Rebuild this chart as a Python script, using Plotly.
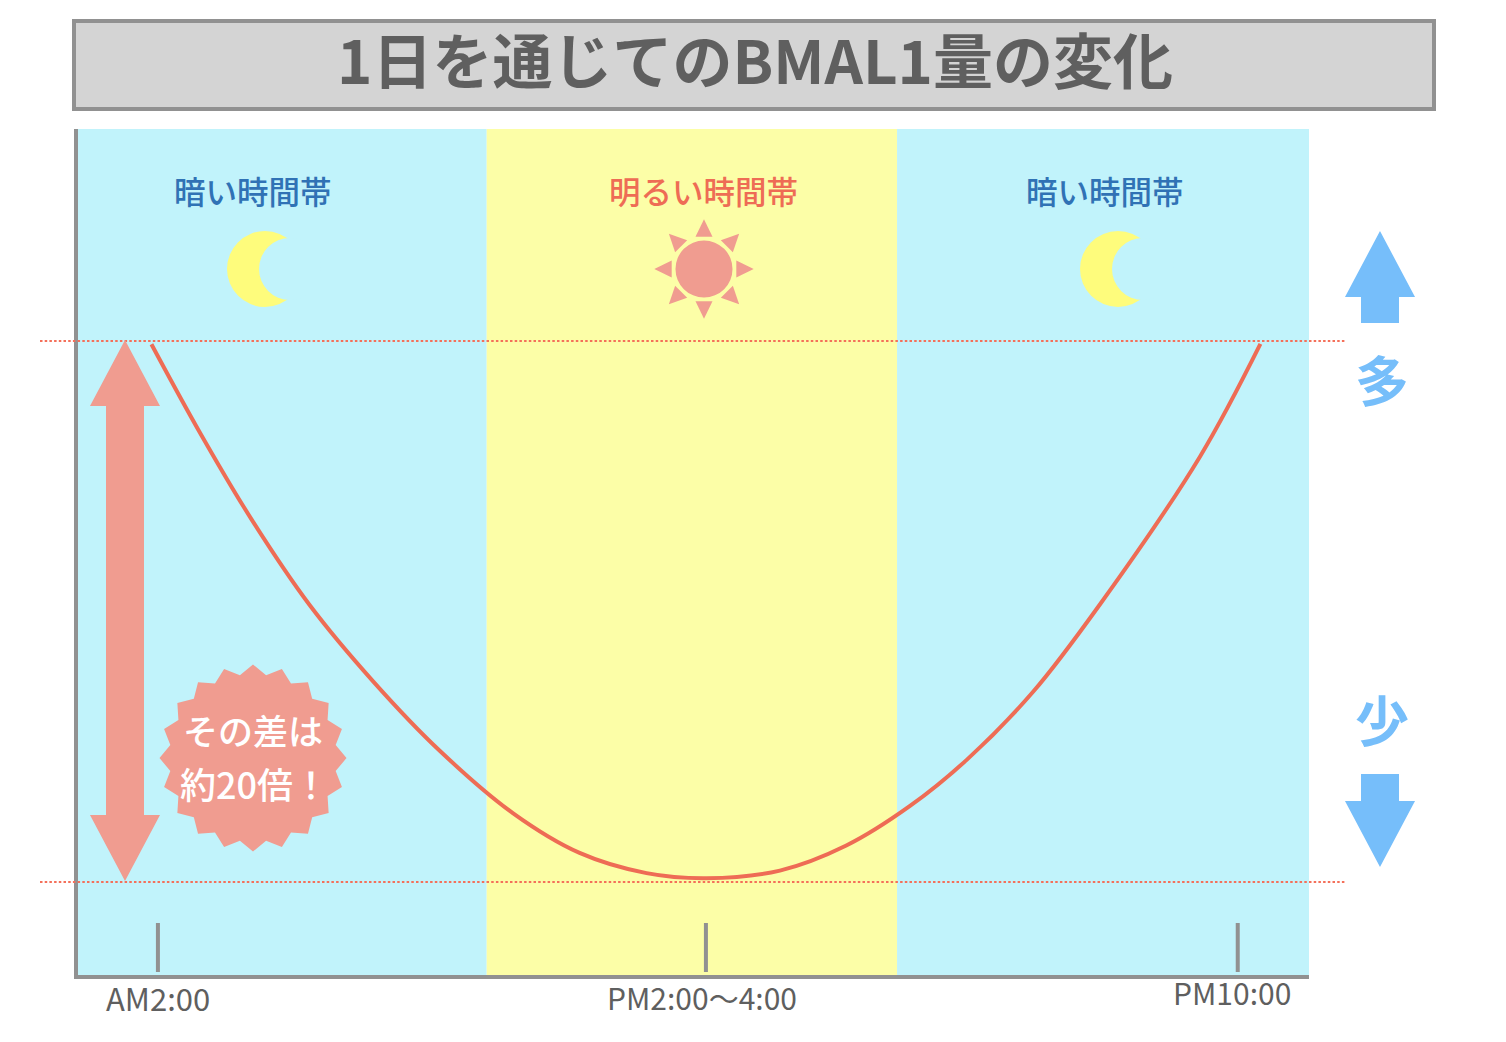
# standard
import math
# external
import plotly.graph_objects as go


##########
# Inputs #
##########

PAGE_WIDTH = 1506
PAGE_HEIGHT = 1042

title_text = "1日を通じてのBMAL1量の変化"

# Curve. x = position on the time axis (hours, schematic), y = relative BMAL1 amount
curve_hours = [
    1.88, 2.75, 3.74, 4.81, 5.99, 7.22, 8.58, 9.81, 11.05, 12.16,
    13.52, 14.75, 15.93, 16.98, 18.21, 19.44, 21.30, 22.42,
]
curve_amount = [
    19.89, 16.88, 13.72, 10.73, 8.04, 5.61, 3.41, 2.02, 1.31, 1.13,
    1.40, 2.28, 3.67, 5.29, 7.68, 10.73, 15.94, 19.90,
]

band_edges = [0.52, 8.09, 15.69, 23.32]
band_colors = ["#C1F3FB", "#FCFEA7", "#C1F3FB"]
band_labels = ["暗い時間帯", "明るい時間帯", "暗い時間帯"]
band_label_colors = ["#3072B5", "#EE6C55", "#3072B5"]

tick_hours = [2, 12.15, 22]
tick_labels = ["AM2:00", "PM2:00～4:00", "PM10:00"]

amount_levels = [1, 20]
amount_labels = ["少", "多"]
badge_lines = ["その差は", "約20倍！"]

GRAY = "#919191"
TEXT_GRAY = "#5F5F5F"
RED = "#EE6C55"
SALMON = "#F09C90"
BLUE = "#76BEFA"
MOON = "#FEFC7C"
NIGHT = "#C1F3FB"
FONT = "Noto Sans CJK JP"
FONT_MEDIUM = "'Noto Sans CJK JP Medium', 'Noto Sans CJK JP'"


#############
# Functions #
#############

def px(x):
    return x / PAGE_WIDTH


def py(y):
    return 1 - y / PAGE_HEIGHT


def polygon_shape(points, color):
    path = "M " + " L ".join(f"{px(x):.5f},{py(y):.5f}" for x, y in points) + " Z"
    return dict(type="path", path=path, xref="paper", yref="paper",
                fillcolor=color, line_width=0, layer="above")


def circle_shape(cx, cy, r, color):
    return dict(type="circle", xref="paper", yref="paper",
                x0=px(cx - r), x1=px(cx + r), y0=py(cy + r), y1=py(cy - r),
                fillcolor=color, line_width=0, layer="above")


def text_note(x, y, text, size, color, family=FONT):
    return dict(x=px(x), y=py(y), xref="paper", yref="paper", text=text, showarrow=False,
                xanchor="center", yanchor="middle",
                font=dict(size=size, color=color, family=family))


def sun_shapes(cx, cy):
    shapes = [circle_shape(cx, cy, 28.5, SALMON)]
    for i in range(8):
        a = math.radians(i * 45)
        ux, uy = math.cos(a), math.sin(a)
        shapes.append(polygon_shape([
            (cx + 49.7 * ux, cy + 49.7 * uy),
            (cx + 32.3 * ux - 8.5 * uy, cy + 32.3 * uy + 8.5 * ux),
            (cx + 32.3 * ux + 8.5 * uy, cy + 32.3 * uy - 8.5 * ux),
        ], SALMON))
    return shapes


def burst_points(cx, cy, n_points, r_outer, r_inner):
    points = []
    for i in range(n_points * 2):
        a = math.radians(i * 180 / n_points)
        r = r_outer if i % 2 == 0 else r_inner
        points.append((cx + r * math.sin(a), cy - r * math.cos(a)))
    return points


############
# Plotting #
############

figure = go.Figure()

figure.add_trace(
    go.Scatter(
        x=curve_hours,
        y=curve_amount,
        mode="lines",
        line=dict(color=RED, width=4, shape="spline", smoothing=1),
        hoverinfo="skip",
    )
)

shapes = []

# Day / night bands
for i, color in enumerate(band_colors):
    shapes.append(dict(type="rect", xref="x", yref="y domain", x0=band_edges[i], x1=band_edges[i + 1],
                       y0=0, y1=1, fillcolor=color, line_width=0, layer="below"))

# Dotted max and min levels
for level in amount_levels:
    shapes.append(dict(type="line", xref="paper", yref="y", x0=px(40), x1=px(1346), y0=level, y1=level,
                       line=dict(color="#F4705A", width=2, dash="2.5px,2.2px"), layer="above"))

# Ticks stop short of the axis line
for hour in tick_hours:
    shapes.append(dict(type="line", xref="x", yref="paper", x0=hour, x1=hour, y0=py(972), y1=py(923),
                       line=dict(color=GRAY, width=4), layer="above"))

# Title box
shapes.append(dict(type="rect", xref="paper", yref="paper", x0=px(74), x1=px(1434), y0=py(109), y1=py(21),
                   fillcolor="#D4D4D4", line=dict(color=GRAY, width=4), layer="above"))

# Moons, drawn as a yellow disc with a night coloured disc on top
for moon_x in [265, 1118]:
    shapes.append(circle_shape(moon_x, 269, 38, MOON))
    shapes.append(circle_shape(moon_x + 25, 269, 31, NIGHT))

shapes += sun_shapes(704, 269)

# Double arrow showing the range
shapes.append(polygon_shape([
    (125, 340), (160, 406), (144, 406), (144, 815), (160, 815), (125, 881),
    (90, 815), (106, 815), (106, 406), (90, 406),
], SALMON))

# More / less arrows
shapes.append(polygon_shape([
    (1380, 231), (1415, 297), (1399, 297), (1399, 323), (1361, 323), (1361, 297), (1345, 297),
], BLUE))
shapes.append(polygon_shape([
    (1380, 867), (1415, 801), (1399, 801), (1399, 774), (1361, 774), (1361, 801), (1345, 801),
], BLUE))

# Badge
shapes.append(polygon_shape(burst_points(253, 758, 20, 93.5, 83.7), SALMON))

annotations = [
    text_note(755, 58, f"<b>{title_text}</b>", 60, TEXT_GRAY),
    text_note(253, 190, band_labels[0], 31.5, band_label_colors[0], FONT_MEDIUM),
    text_note(703, 190, band_labels[1], 31.5, band_label_colors[1], FONT_MEDIUM),
    text_note(1105, 190, band_labels[2], 31.5, band_label_colors[2], FONT_MEDIUM),
    text_note(253, 729, badge_lines[0], 35, "white", FONT_MEDIUM),
    text_note(255, 783, badge_lines[1], 36, "white", FONT_MEDIUM),
    text_note(158, 997, tick_labels[0], 31, TEXT_GRAY),
    text_note(702, 997, tick_labels[1], 30, TEXT_GRAY),
    text_note(1232, 992, tick_labels[2], 30, TEXT_GRAY),
    text_note(1382, 378, f"<b>{amount_labels[1]}</b>", 54, BLUE),
    text_note(1382, 719, f"<b>{amount_labels[0]}</b>", 54, BLUE),
]

figure.update_layout(
    width=PAGE_WIDTH,
    height=PAGE_HEIGHT,
    margin=dict(l=0, r=0, t=0, b=0),
    paper_bgcolor="white",
    plot_bgcolor="white",
    showlegend=False,
    hovermode=False,
    shapes=shapes,
    annotations=annotations,
    xaxis=dict(
        domain=[78 / PAGE_WIDTH, 1309 / PAGE_WIDTH],
        range=[band_edges[0], band_edges[-1]],
        showgrid=False,
        zeroline=False,
        showticklabels=False,
        ticks="",
        showline=True,
        linecolor=GRAY,
        linewidth=4,
    ),
    yaxis=dict(
        domain=[1 - 975 / PAGE_HEIGHT, 1 - 129 / PAGE_HEIGHT],
        range=[-2.267, 27.449],
        showgrid=False,
        zeroline=False,
        showticklabels=False,
        ticks="",
        showline=True,
        linecolor=GRAY,
        linewidth=4,
    ),
)


#############
# Save plot #
#############

figure.write_html(
    "out.html",
    config=dict(displayModeBar=False),
    post_script="document.body.style.margin = '0';",
)
